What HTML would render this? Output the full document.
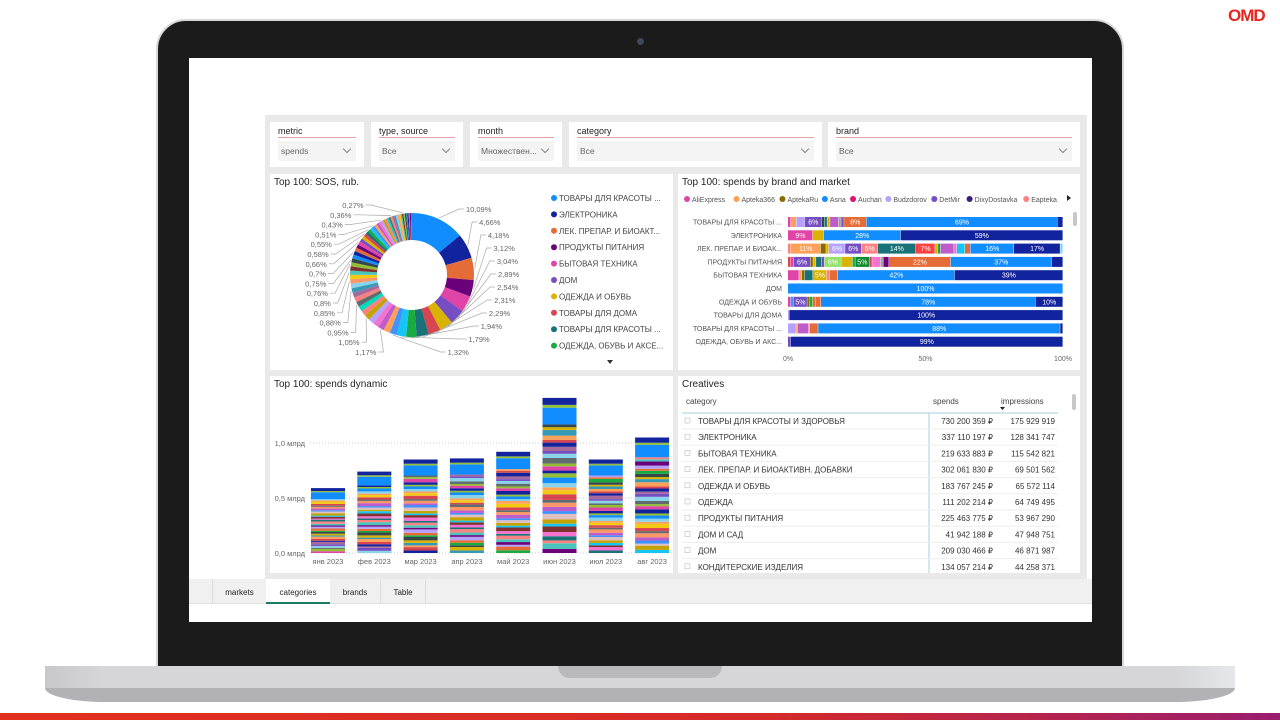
<!DOCTYPE html>
<html><head><meta charset="utf-8">
<style>
*{margin:0;padding:0;box-sizing:border-box}
body{width:1280px;height:720px;background:#fff;position:relative;overflow:hidden;font-family:"Liberation Sans","Noto Sans CJK SC",sans-serif;color:#252423}
.abs{position:absolute}
.panel{position:absolute;background:#fff}
.ptitle{position:absolute;left:4px;top:3px;font-size:10px;color:#252423}
.slicer{position:absolute;top:122px;height:45px;background:#fff}
.slicer .lbl{position:absolute;left:8px;top:4px;font-size:9px;color:#252423}
.slicer .ul{position:absolute;left:8px;right:8px;top:15px;height:1px;background:#e8a0a0}
.slicer .dd{position:absolute;left:8px;right:8px;top:19px;height:20px;background:#f4f4f4;font-size:8.5px;color:#666;padding:5px 0 0 3px}
.slicer .chev{position:absolute;right:6px;top:5px;width:6px;height:6px;border-right:1px solid #888;border-bottom:1px solid #888;transform:rotate(45deg)}
svg text{font-family:"Liberation Sans",sans-serif}
</style></head><body>
<div class="abs" style="left:1228px;top:6px;font-size:17px;font-weight:bold;color:#e8251f;letter-spacing:-1px">OMD</div>
<div class="abs" style="left:156px;top:19px;width:968px;height:650px;background:#1b1b1b;border-radius:30px 30px 4px 4px;border:2px solid #d8d8d8"></div>
<div class="abs" style="left:637px;top:38px;width:7px;height:7px;border-radius:50%;background:#3a4a5a"></div>
<div class="abs" style="left:45px;top:666px;width:1190px;height:22px;background:linear-gradient(90deg,#c8c8ca 0,#d6d6d8 5%,#d6d6d8 95%,#e6e8ec 100%)"></div>
<div class="abs" style="left:45px;top:688px;width:1190px;height:14px;background:#b2b2b5;border-radius:0 0 60px 60px/0 0 14px 14px"></div>
<div class="abs" style="left:558px;top:666px;width:164px;height:12px;background:#b9b9bc;border-radius:0 0 14px 14px"></div>
<div class="abs" style="left:0;top:713px;width:1280px;height:7px;background:linear-gradient(90deg,#e2301f 0,#d42a2a 60%,#9a1e6e 100%)"></div>

<div class="abs" style="left:189px;top:58px;width:903px;height:564px;background:#fff"></div>
<div class="abs" style="left:265px;top:115px;width:822px;height:464px;background:#e9e9e9"></div>

<div class="slicer" style="left:270px;width:94px"><div class="lbl">metric</div><div class="ul"></div><div class="dd">spends<div class="chev"></div></div></div>
<div class="slicer" style="left:371px;width:92px"><div class="lbl">type, source</div><div class="ul"></div><div class="dd">Все<div class="chev"></div></div></div>
<div class="slicer" style="left:470px;width:92px"><div class="lbl">month</div><div class="ul"></div><div class="dd">Множествен...<div class="chev"></div></div></div>
<div class="slicer" style="left:569px;width:253px"><div class="lbl">category</div><div class="ul"></div><div class="dd">Все<div class="chev"></div></div></div>
<div class="slicer" style="left:828px;width:252px"><div class="lbl">brand</div><div class="ul"></div><div class="dd">Все<div class="chev"></div></div></div>

<div class="panel" style="left:270px;top:174px;width:403px;height:196px"><div class="ptitle">Top 100: SOS, rub.</div>
<svg id="donut" width="403" height="196" style="position:absolute;left:0;top:0"></svg></div>

<div class="panel" style="left:678px;top:174px;width:402px;height:196px"><div class="ptitle">Top 100: spends by brand and market</div>
<svg id="hbar" width="402" height="196" style="position:absolute;left:0;top:0"></svg></div>

<div class="panel" style="left:270px;top:376px;width:403px;height:197px"><div class="ptitle">Top 100: spends dynamic</div>
<svg id="vbar" width="403" height="197" style="position:absolute;left:0;top:0"></svg></div>

<div class="panel" style="left:678px;top:376px;width:402px;height:197px"><div class="ptitle">Creatives</div>
<svg id="tbl" width="402" height="197" style="position:absolute;left:0;top:0"></svg></div>

<div class="abs" style="left:189px;top:579px;width:903px;height:25px;background:#f0f0f0;border-bottom:1px solid #e0e0e0"></div>
<div class="abs" style="left:212px;top:579px;width:54px;height:25px;font-size:8px;text-align:center;padding-top:9px;border-left:1px solid #ddd">markets</div>
<div class="abs" style="left:266px;top:579px;width:64px;height:25px;font-size:8px;text-align:center;padding-top:9px;background:#fff;border-bottom:2px solid #1c7a6a">categories</div>
<div class="abs" style="left:330px;top:579px;width:51px;height:25px;font-size:8px;text-align:center;padding-top:9px;border-right:1px solid #ddd">brands</div>
<div class="abs" style="left:381px;top:579px;width:45px;height:25px;font-size:8px;text-align:center;padding-top:9px;border-right:1px solid #ddd">Table</div>

<script>
const NS='http://www.w3.org/2000/svg';
const PAL=['#118DFF','#12239E','#E66C37','#6B007B','#E044A7','#744EC2','#D9B300','#D64550','#197278','#1AAB40','#15C6F4','#4092FF','#FFA058','#BE5DC9','#F472D0','#B5A1FF','#C4A200','#FF8080','#00DBBC','#5F6B6D','#FB8281','#A66999','#3599B8','#8AD4EB','#FE9666','#F3C911','#4AC5BB','#7F312F','#93BF35','#374649'];
function el(p,t,a){const e=document.createElementNS(NS,t);for(const k in a)e.setAttribute(k,a[k]);p.appendChild(e);return e;}

/* ---- donut data ---- */
const donutValues=[10.09,4.66,4.18,3.12,3.04,2.89,2.54,2.31,2.29,1.94,1.79,1.32,1.25,1.17,1.12,1.09,1.05,1.0,0.98,0.95,0.92,0.9,0.88,0.86,0.85,0.82,0.8,0.78,0.76,0.75,0.72,0.7,0.68,0.67,0.66,0.63,0.6,0.58,0.56,0.55,0.53,0.51,0.48,0.46,0.45,0.43,0.41,0.4,0.38,0.37,0.36,0.34,0.33,0.31,0.3,0.29,0.28,0.27,0.26,0.25,0.24,0.23,0.22,0.21,0.2];
const donutLabeled=[10.09,4.66,4.18,3.12,3.04,2.89,2.54,2.31,2.29,1.94,1.79,1.32,1.17,1.05,0.95,0.88,0.85,0.8,0.76,0.75,0.7,0.66,0.58,0.55,0.51,0.43,0.36,0.27];
const donutLegend=['ТОВАРЫ ДЛЯ КРАСОТЫ ...','ЭЛЕКТРОНИКА','ЛЕК. ПРЕПАР. И БИОАКТ...','ПРОДУКТЫ ПИТАНИЯ','БЫТОВАЯ ТЕХНИКА','ДОМ','ОДЕЖДА И ОБУВЬ','ТОВАРЫ ДЛЯ ДОМА','ТОВАРЫ ДЛЯ КРАСОТЫ ...','ОДЕЖДА, ОБУВЬ И АКСЕ...'];
(function(){
 const s=document.getElementById('donut');const cx=142,cy=101,R=62,r=35;
 const tot=donutValues.reduce((a,b)=>a+b,0);let acc=0;
 const p=(a,rr)=>[cx+rr*Math.sin(a),cy-rr*Math.cos(a)];
 const labs=[];
 donutValues.forEach((v,i)=>{
  const a0=acc/tot*2*Math.PI,a1=(acc+v)/tot*2*Math.PI;acc+=v;
  const [x0,y0]=p(a0,R),[x1,y1]=p(a1,R),[x2,y2]=p(a1,r),[x3,y3]=p(a0,r);
  const lg=a1-a0>Math.PI?1:0;
  const path=el(s,'path',{d:`M${x0},${y0}A${R},${R} 0 ${lg} 1 ${x1},${y1}L${x2},${y2}A${r},${r} 0 ${lg} 0 ${x3},${y3}Z`,fill:PAL[i%PAL.length]});
  
  
  if(donutLabeled.indexOf(v)>=0)labs.push([v,(a0+a1)/2]);
 });
 function drawLabel(v,am,ly,right){
  const [sx,sy]=p(am,R+1);
  const dy=ly-cy;const rr=R+22;
  let dx=Math.sqrt(Math.max(0,rr*rr-dy*dy));dx=Math.max(dx,22);
  const ex=right?cx+dx:cx-dx;
  el(s,'polyline',{points:`${sx},${sy} ${ex-(right?5:-5)},${ly} ${ex},${ly}`,fill:'none',stroke:'#aaa','stroke-width':0.7});
  const t=el(s,'text',{x:ex+(right?2:-2),y:ly+3,'font-size':7.5,fill:'#666','text-anchor':right?'start':'end'});
  t.textContent=(v+'').replace('.',',')+'%';
  
  
 }
 const nR=12;
 labs.slice(0,nR).forEach((l,i)=>drawLabel(l[0],l[1],35+i*13,true));
 labs.slice(nR).forEach((l,i)=>drawLabel(l[0],l[1],178-i*9.8,false));
 donutLegend.forEach((n,i)=>{
  const y=24+i*16.4;
  const c=el(s,'circle',{cx:284,cy:y,r:3,fill:PAL[i]});
  
  
  const t=el(s,'text',{x:289,y:y+3,'font-size':8,fill:'#444'});t.textContent=n;
  
  
 });
 el(s,'path',{d:'M337,186l6,0l-3,4z',fill:'#333'});
})();

/* ---- 100% stacked bar ---- */
const hbarCategories=['ТОВАРЫ ДЛЯ КРАСОТЫ ...','ЭЛЕКТРОНИКА','ЛЕК. ПРЕПАР. И БИОАК...','ПРОДУКТЫ ПИТАНИЯ','БЫТОВАЯ ТЕХНИКА','ДОМ','ОДЕЖДА И ОБУВЬ','ТОВАРЫ ДЛЯ ДОМА','ТОВАРЫ ДЛЯ КРАСОТЫ ...','ОДЕЖДА, ОБУВЬ И АКС...'];
const hbarValues=[
 [1,2,3,6,1,1,1,3,1,1,8,68,2],
 [9,4,28,59],
 [1,11,2,1,6,6,6,14,7,1,1,5,1,3,2,16,17,1],
 [1,1,6,1,1,2,1,6,4,1,5,1,3,1,2,22,36,4],
 [4,1,1,3,5,1,3,42,39],
 [100],
 [1,1,5,1,1,1,2,78,10],
 [0.5,99.5],
 [3,0.5,4,0.5,3,88,1],
 [1,99]];
const hbarColors=[
 ['#E044A7','#FFA058','#B5A1FF','#744EC2','#374649','#197278','#D9B300','#BE5DC9','#A0A0A0','#744EC2','#E66C37','#118DFF','#12239E'],
 ['#E044A7','#D9B300','#118DFF','#12239E'],
 ['#FF8080','#FFA058','#8B6A00','#D9B300','#B5A1FF','#744EC2','#FB8281','#197278','#FF4040','#D9B300','#1AAB40','#BE5DC9','#F472D0','#15C6F4','#E66C37','#118DFF','#12239E','#8AD4EB'],
 ['#D64550','#E044A7','#744EC2','#8B6A00','#D9B300','#197278','#744EC2','#93E06A','#D9B300','#1AAB40','#0E8A30','#D64550','#F472D0','#A0A0A0','#6B007B','#E66C37','#118DFF','#12239E'],
 ['#E044A7','#FFA058','#8B6A00','#197278','#D9B300','#FB8281','#E66C37','#118DFF','#12239E'],
 ['#118DFF'],
 ['#E044A7','#4092FF','#744EC2','#8B6A00','#1AAB40','#E66C37','#E66C37','#118DFF','#12239E'],
 ['#B5A1FF','#12239E'],
 ['#B5A1FF','#FFA058','#BE5DC9','#F472D0','#E66C37','#118DFF','#12239E'],
 ['#744EC2','#12239E']];
const hbarTicks=[0,50,100];
const brandLegend=['AliExpress','Apteka366','AptekaRu','Asna','Auchan','Budzdorov','DetMir','DixyDostavka','Eapteka'];
const brandColors=['#E044A7','#FFA058','#8B6A00','#118DFF','#E0106B','#B5A1FF','#744EC2','#3A1C7A','#FF8080'];
(function(){
 const s=document.getElementById('hbar');const x0=110,W=275;const xs=p=>x0+p/100*W;
 let lx=6;
 brandLegend.forEach((b,i)=>{
  const c=el(s,'circle',{cx:lx+3,cy:25,r:3,fill:brandColors[i]});
  
  
  const t=el(s,'text',{x:lx+8,y:28,'font-size':7,fill:'#555'});t.textContent=b;
  
  
  lx+=8+b.length*3.55+6;
 });
 el(s,'path',{d:'M389,21l4,3l-4,3z',fill:'#222'});
 el(s,'rect',{x:395,y:38,width:4,height:14,rx:2,fill:'#c8c8c8'});
 hbarCategories.forEach((c,i)=>{
  const y=43+i*13.3;
  const t=el(s,'text',{x:104,y:y+7.5,'font-size':7,fill:'#555','text-anchor':'end'});t.textContent=c;
  
  
  const vals=hbarValues[i];const tot=vals.reduce((a,b)=>a+b,0);let acc=0;
  vals.forEach((v,j)=>{
   const p=v/tot*100;
   const r=el(s,'rect',{x:xs(acc),y:y,width:Math.max(0.5,xs(acc+p)-xs(acc)-0.4),height:10,fill:hbarColors[i][j]});
   
   
   if(p>=5){const l=el(s,'text',{x:(xs(acc)+xs(acc+p))/2,y:y+7.5,'font-size':7,fill:'#fff','text-anchor':'middle'});l.textContent=Math.round(p)+'%';}
   acc+=p;
  });
 });
 hbarTicks.forEach(tk=>{const t=el(s,'text',{x:xs(tk),y:187,'font-size':7,fill:'#666','text-anchor':'middle'});t.textContent=tk+'%';
  
  });
})();

/* ---- stacked column ---- */
const months=['янв 2023','фев 2023','мар 2023','апр 2023','май 2023','июн 2023','июл 2023','авг 2023'];
const monthTotals=[0.59,0.74,0.85,0.86,0.92,1.41,0.85,1.05];
const segmentShares=[3,4,2,3,3,4,2,3,4,2,3,3,2,4,3,2,3,4,3,2,3,2,4,3,2,3,3,2,3,4,2,2,12,2,5];
const segmentColors=['#E044A7','#93BF35','#5F6B6D','#8AD4EB','#744EC2','#A66999','#12239E','#D64550','#FFA058','#3599B8','#D9B300','#374649','#1AAB40','#E66C37','#B5A1FF','#6B007B','#4AC5BB','#FB8281','#197278','#F472D0','#7F312F','#15C6F4','#C4A200','#DFBFBF','#4092FF','#BE5DC9','#FE9666','#5F6B6D','#D64550','#F3C911','#FFA058','#8AD4EB','#118DFF','#93BF35','#12239E'];
const yTicks=[0,0.5,1.0];
(function(){
 const s=document.getElementById('vbar');const y0=177,k=110;const ys=v=>y0-v*k;
 yTicks.forEach(v=>{
  el(s,'line',{x1:40,x2:400,y1:ys(v),y2:ys(v),stroke:'#ccc','stroke-dasharray':'1,2'});
  const t=el(s,'text',{x:35,y:ys(v)+3,'font-size':7.5,fill:'#666','text-anchor':'end'});t.textContent=v.toFixed(1).replace('.',',')+' млрд';
  
  
 });
 const tot=segmentShares.reduce((a,b)=>a+b,0);
 months.forEach((m,i)=>{
  const cx=58+i*46.3;let acc=0;
  segmentShares.forEach((sh,j)=>{
   const v=monthTotals[i]*sh/tot;
   const r=el(s,'rect',{x:cx-17,y:ys(acc+v),width:34,height:Math.max(0.5,ys(acc)-ys(acc+v)),fill:segmentColors[(j+i*3*(j<32?1:0))%segmentColors.length]});
   
   
   acc+=v;
  });
  const t=el(s,'text',{x:cx,y:188,'font-size':7.5,fill:'#666','text-anchor':'middle'});t.textContent=m;
  
  
 });
})();

/* ---- table ---- */
const tblCategories=['ТОВАРЫ ДЛЯ КРАСОТЫ И ЗДОРОВЬЯ','ЭЛЕКТРОНИКА','БЫТОВАЯ ТЕХНИКА','ЛЕК. ПРЕПАР. И БИОАКТИВН. ДОБАВКИ','ОДЕЖДА И ОБУВЬ','ОДЕЖДА','ПРОДУКТЫ ПИТАНИЯ','ДОМ И САД','ДОМ','КОНДИТЕРСКИЕ ИЗДЕЛИЯ'];
const tblSpends=['730 200 359 ₽','337 110 197 ₽','219 633 883 ₽','302 061 830 ₽','183 767 245 ₽','111 202 214 ₽','225 463 775 ₽','41 942 188 ₽','209 030 466 ₽','134 057 214 ₽'];
const tblImpr=['175 929 919','128 341 747','115 542 821','69 501 562','65 572 114','64 749 495','53 967 290','47 948 751','46 871 987','44 258 371'];
(function(){
 const s=document.getElementById('tbl');
 [['category',8,'start'],['spends',255,'start'],['impressions',323,'start']].forEach(h=>{const t=el(s,'text',{x:h[1],y:28,'font-size':8,fill:'#444','text-anchor':h[2]});t.textContent=h[0];
  
  });
 el(s,'path',{d:'M322,31l5,0l-2.5,3z',fill:'#222'});
 el(s,'line',{x1:4,x2:380,y1:37,y2:37,stroke:'#a6cfe0'});
 el(s,'line',{x1:251,x2:251,y1:37,y2:197,stroke:'#a6cfe0'});
 el(s,'rect',{x:394,y:18,width:4,height:16,rx:2,fill:'#c8c8c8'});
 tblCategories.forEach((c,i)=>{
  const y=48+i*16.2;
  el(s,'rect',{x:7,y:y-6,width:5,height:5,fill:'none',stroke:'#bbb','stroke-width':0.6});
  const t=el(s,'text',{x:20,y:y,'font-size':8,fill:'#333'});t.textContent=c;
  
  
  const a=el(s,'text',{x:315,y:y,'font-size':8,fill:'#333','text-anchor':'end'});a.textContent=tblSpends[i];
  
  
  const b=el(s,'text',{x:377,y:y,'font-size':8,fill:'#333','text-anchor':'end'});b.textContent=tblImpr[i];
  
  
  if(i<9)el(s,'line',{x1:4,x2:380,y1:y+5,y2:y+5,stroke:'#eee'});
 });
})();
</script>
</body></html>
